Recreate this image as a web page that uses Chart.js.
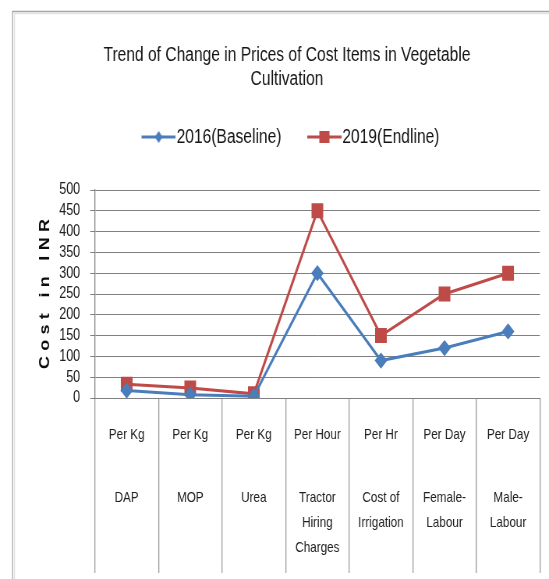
<!DOCTYPE html>
<html>
<head>
<meta charset="utf-8">
<script src="https://cdn.jsdelivr.net/npm/chart.js@4"></script>
<style>
  html, body { margin: 0; padding: 0; background: #ffffff; overflow: hidden; width: 549px; height: 579px; }
  /* the chart is drawn on a wider canvas and condensed horizontally */
  #wrap { width: 704px; height: 579px; transform: scaleX(0.7798); transform-origin: 0 0; }
</style>
</head>
<body>
<div id="wrap"><canvas id="c" width="704" height="579"></canvas></div>
<script>
// Cost items (unit row and item row of the category axis)
const units = ["Per Kg", "Per Kg", "Per Kg", "Per Hour", "Per Hr", "Per Day", "Per Day"];
const items = [["DAP"], ["MOP"], ["Urea"], ["Tractor", "Hiring", "Charges"], ["Cost of", "Irrigation"], ["Female-", "Labour"], ["Male-", "Labour"]];

// Prices in INR
const baseline2016 = [18, 8, 4, 300, 90, 120, 160];
const endline2019 = [33, 24, 10, 450, 150, 250, 300];
const seriesNames = ["2016(Baseline)", "2019(Endline)"];

// Value axis ticks
const yTickValues = [0, 50, 100, 150, 200, 250, 300, 350, 400, 450, 500];

const titleLines = ["Trend of Change in Prices of Cost Items in Vegetable", "Cultivation"];
const yAxisTitle = "Cost in INR";

const BLUE = "#4a7ebb";
const RED = "#be4b48";
const GRID = "#808080";
const SEP = "#9a9a9a";
const INK = "#141414";
const FONT = "'Liberation Sans', Arial, sans-serif";

// line-plus-marker swatches for the legend (transparent margin on the left)
function legendSwatch(color, shape) {
  const c = document.createElement("canvas");
  c.width = 62; c.height = 16;
  const g = c.getContext("2d");
  g.strokeStyle = color; g.lineWidth = 3;
  g.beginPath(); g.moveTo(18, 8); g.lineTo(62, 8); g.stroke();
  g.fillStyle = color;
  if (shape === "diamond") {
    g.beginPath(); g.moveTo(40, 2); g.lineTo(45, 8); g.lineTo(40, 14); g.lineTo(35, 8); g.closePath(); g.fill();
  } else {
    g.fillRect(33.5, 2, 13, 12);
  }
  return c;
}
const swatches = [legendSwatch(BLUE, "diamond"), legendSwatch(RED, "square")];

// outer frame around the whole chart
const framePlugin = {
  id: "frame",
  beforeDraw(chart) {
    const ctx = chart.ctx;
    ctx.save();
    ctx.lineWidth = 1.3;
    ctx.strokeStyle = "#a6a6a6";
    ctx.beginPath();
    ctx.moveTo(16, 579); ctx.lineTo(16, 11.5); ctx.lineTo(704, 11.5);
    ctx.stroke();
    ctx.strokeStyle = "#e2e2e2";
    ctx.beginPath();
    ctx.moveTo(18.6, 579); ctx.lineTo(18.6, 13.5); ctx.lineTo(704, 13.5);
    ctx.stroke();
    ctx.restore();
  }
};

// rotated, letter-spaced value axis title
const yTitlePlugin = {
  id: "yTitle",
  afterDraw(chart) {
    const { ctx, chartArea } = chart;
    ctx.save();
    ctx.translate(57.7, (chartArea.top + chartArea.bottom) / 2);
    ctx.rotate(-Math.PI / 2);
    ctx.font = "bold 18px " + FONT;
    ctx.letterSpacing = "5.3px";
    ctx.textAlign = "center";
    ctx.textBaseline = "middle";
    ctx.fillStyle = "#0d0d0d";
    ctx.fillText(yAxisTitle, 2.6, 0);
    ctx.restore();
  }
};

// fixed legend band height so the plot starts below it
const legendBandPlugin = {
  id: "legendBand",
  beforeLayout(chart) {
    const lg = chart.legend;
    if (lg && !lg._bandPatched) {
      const fit = lg.fit.bind(lg);
      lg.fit = function () { fit(); this.height = 87; };
      lg._bandPatched = true;
    }
  }
};

new Chart(document.getElementById("c"), {
  type: "line",
  data: {
    labels: items.map(it => it.join(" ")),
    datasets: [
      {
        label: seriesNames[0],
        data: baseline2016,
        borderColor: BLUE,
        backgroundColor: BLUE,
        borderWidth: 3,
        pointStyle: "rectRot",
        pointRadius: 6,
        pointHoverRadius: 6,
        tension: 0,
        xAxisID: "x"
      },
      {
        label: seriesNames[1],
        data: endline2019,
        borderColor: RED,
        backgroundColor: RED,
        borderWidth: 3,
        pointStyle: "rect",
        pointRadius: 8.5,
        pointHoverRadius: 8.5,
        tension: 0,
        xAxisID: "x"
      }
    ]
  },
  options: {
    responsive: false,
    devicePixelRatio: 1,
    animation: false,
    events: [],
    layout: { padding: { left: 43.7, right: 11.7, top: 0, bottom: 0 } },
    plugins: {
      tooltip: { enabled: false },
      title: {
        display: true,
        text: titleLines,
        color: INK,
        font: { family: FONT, size: 20, weight: "normal", lineHeight: 1.2 },
        padding: { top: 43, bottom: 12 }
      },
      legend: {
        display: true,
        position: "top",
        labels: {
          usePointStyle: true,
          pointStyleWidth: 44,
          color: INK,
          font: { family: FONT, size: 20 },
          padding: 24,
          generateLabels(chart) {
            const list = Chart.defaults.plugins.legend.labels.generateLabels(chart);
            list.forEach((it, i) => { it.pointStyle = swatches[i]; });
            return list;
          }
        }
      }
    },
    scales: {
      y: {
        min: 0,
        max: 500,
        afterBuildTicks(scale) { scale.ticks = yTickValues.map(v => ({ value: v })); },
        afterFit(scale) { scale.width = 78; },
        ticks: {
          autoSkip: false,
          color: "#202020",
          font: { family: FONT, size: 16, lineHeight: 1 },
          padding: 13
        },
        grid: { color: GRID, lineWidth: 1, tickLength: 6, tickColor: GRID },
        border: { display: true, color: GRID, width: 1.3 }
      },
      x: {
        type: "category",
        position: "bottom",
        offset: true,
        weight: 0,
        afterFit(scale) { scale.height = 45; },
        grid: { offset: true, drawOnChartArea: false, tickLength: 45, lineWidth: 1.3, color: SEP, tickColor: SEP },
        border: { display: true, color: GRID, width: 1 },
        ticks: {
          autoSkip: false,
          maxRotation: 0,
          minRotation: 0,
          color: "#202020",
          font: { family: FONT, size: 15, lineHeight: 1.2 },
          padding: -17,
          callback(value, index) { return units[index]; }
        }
      },
      x2: {
        type: "category",
        position: "bottom",
        offset: true,
        weight: 1,
        afterFit(scale) { scale.height = 136; },
        grid: { offset: true, drawOnChartArea: false, tickLength: 130, lineWidth: 1.3, color: SEP, tickColor: SEP },
        border: { display: false },
        ticks: {
          autoSkip: false,
          maxRotation: 0,
          minRotation: 0,
          color: "#202020",
          font: { family: FONT, size: 15, lineHeight: "25px" },
          padding: -87.5,
          callback(value, index) { return items[index]; }
        }
      }
    }
  },
  plugins: [framePlugin, yTitlePlugin, legendBandPlugin]
});
</script>
</body>
</html>
